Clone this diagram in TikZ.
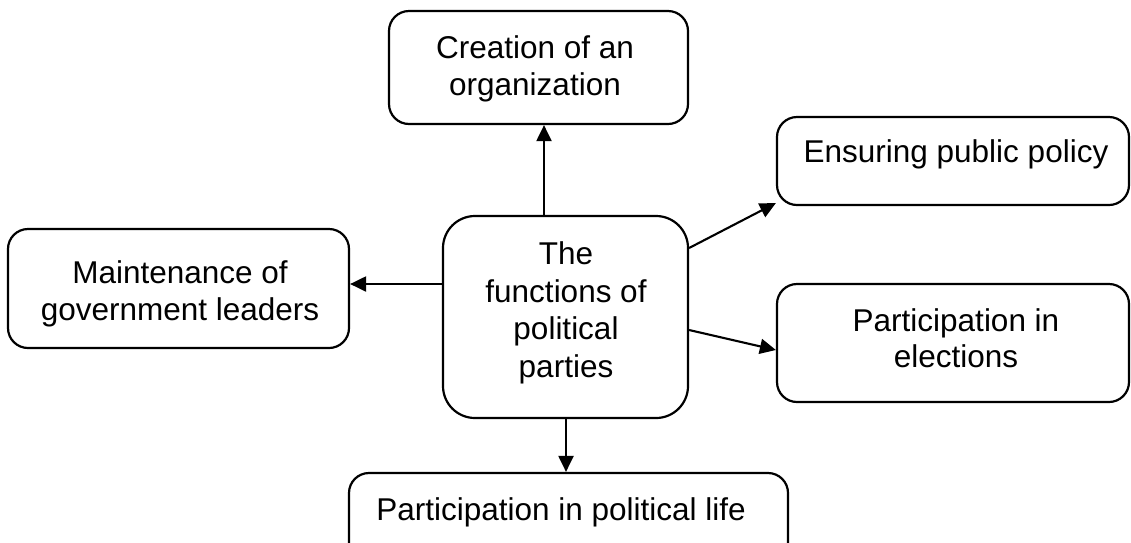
\documentclass[tikz,border=0pt]{standalone}
\usepackage{fontspec}
\setmainfont{Liberation Sans}
\usetikzlibrary{arrows.meta}
\begin{document}
\begin{tikzpicture}[x=1pt,y=-1pt,
  box/.style={draw=black, line width=2.2pt, rounded corners=20pt, inner sep=0pt},
  txt/.style={align=center, inner sep=0pt, font=\fontsize{31.5}{36.5}\selectfont},
  conn/.style={line width=2.1pt, -{Triangle[length=16pt,width=15pt]}}]
\clip (0,0) rectangle (1131,542);
\fill[white] (0,0) rectangle (1131,542);
% boxes
\node[box, minimum width=299pt, minimum height=113pt] (org) at (538.5,67.5) {};
\node[box, minimum width=352pt, minimum height=88pt] (pol) at (953,161) {};
\node[box, minimum width=341pt, minimum height=119pt] (lead) at (178.5,288.5) {};
\node[box, rounded corners=32pt, minimum width=245pt, minimum height=202pt] (c) at (565.5,317) {};
\node[box, minimum width=352pt, minimum height=118pt] (el) at (953,343) {};
\node[box, minimum width=439pt, minimum height=94pt] (life) at (568.5,520) {};
% texts
\node[txt] (orgT) at (535,68.6) {Creation of an\\organization};
\node[txt, anchor=base] (polT) at (956,162) {Ensuring public policy};
\node[txt] (leadT) at (180,294) {Maintenance of\\government leaders};
\node[txt, font=\fontsize{31.5}{37.5}\selectfont] (cT) at (566,313) {The\\functions of\\political\\parties};
\node[txt] (elT) at (956,338.4) {Participation in\\elections};
\node[txt, anchor=base] (lifeT) at (561,520) {Participation in political life};
% connectors
\coordinate (s1) at (544,0);
\coordinate (s2) at (0,284);
\coordinate (s3) at (0,248);
\coordinate (e3) at (0,203);
\coordinate (s4) at (0,330);
\coordinate (e4) at (0,350);
\coordinate (s5) at (566,0);
\draw[conn] (c.north -| s1) -- (org.south -| s1);
\draw[conn] (c.west |- s2) -- (lead.east |- s2);
\draw[conn] (c.east |- s3) -- (pol.west |- e3);
\draw[conn] (c.east |- s4) -- (el.west |- e4);
\draw[conn] (c.south -| s5) -- (life.north -| s5);
\end{tikzpicture}
\end{document}
